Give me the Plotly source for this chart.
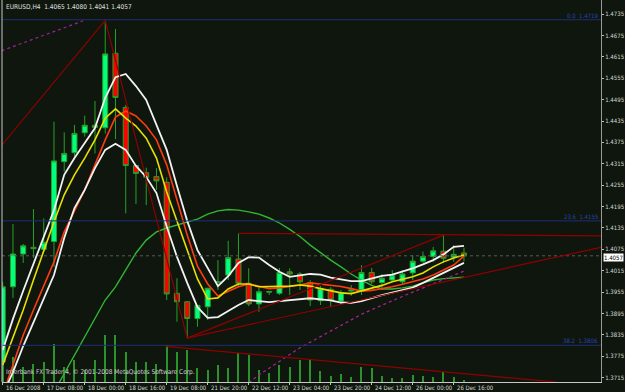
import plotly.graph_objects as go

# ---------------- data (EURUSD H4, 46 bars) ----------------
bars = list(range(46))
opens = [1.3759,1.3970,1.4062,1.4081,1.4075,1.4097,1.4321,1.4346,1.4402,1.4423,
         1.4416,1.4625,1.4473,1.4310,1.4290,1.4279,1.4263,1.3952,1.3928,1.3881,
         1.3914,1.3983,1.4003,1.4048,1.3980,1.3922,1.3955,1.3952,1.4012,1.4006,
         1.3982,1.3931,1.3963,1.3930,1.3958,1.3961,1.4010,1.3982,1.3989,1.3984,
         1.4009,1.4042,1.4055,1.4070,1.4053,1.4065]
highs = [1.3984,1.4146,1.4090,1.4188,1.4162,1.4433,1.4403,1.4424,1.4450,1.4491,
         1.4713,1.4693,1.4480,1.4312,1.4304,1.4303,1.4277,1.3994,1.3930,1.3919,
         1.3967,1.4045,1.4099,1.4120,1.4022,1.3967,1.3957,1.4023,1.4022,1.4011,
         1.3989,1.3972,1.3969,1.3961,1.3975,1.4031,1.4023,1.4006,1.4017,1.4017,
         1.4059,1.4069,1.4082,1.4115,1.4087,1.4080]
lows = [1.3756,1.3939,1.4037,1.4051,1.4069,1.4026,1.4293,1.4335,1.4391,1.4344,
        1.4400,1.4384,1.4176,1.4202,1.4199,1.4242,1.3933,1.3872,1.3826,1.3858,
        1.3877,1.3961,1.3989,1.3972,1.3916,1.3900,1.3947,1.3947,1.3947,1.3961,
        1.3916,1.3919,1.3913,1.3922,1.3945,1.3947,1.3978,1.3961,1.3984,1.3978,
        1.3989,1.4037,1.4040,1.4037,1.4040,1.4041]
closes = [1.3970,1.4062,1.4085,1.4077,1.4095,1.4323,1.4344,1.4400,1.4423,1.4417,
          1.4623,1.4501,1.4310,1.4288,1.4277,1.4267,1.3950,1.3928,1.3881,1.3918,
          1.3966,1.3984,1.4052,1.3980,1.3922,1.3956,1.3957,1.4010,1.4006,1.3984,
          1.3933,1.3966,1.3933,1.3954,1.3961,1.4010,1.3984,1.3994,1.4003,1.4006,
          1.4042,1.4055,1.4071,1.4050,1.4061,1.4057]
volumes = [2000,2500,1500,1800,2000,3800,1500,2200,1200,2200,
           4700,4700,3000,2000,2000,1800,3700,3000,3200,1400,
           1200,1700,1400,2900,2700,1200,900,1700,1500,2200,
           2200,1100,600,800,500,1500,1400,600,400,400,
           700,600,500,1000,500,200]

env_upper = [1.3793,1.3880,1.3959,1.4036,1.4111,1.4185,1.4284,1.4331,1.4373,1.4415,
             1.4500,1.4558,1.4567,1.4533,1.4494,1.4424,1.4354,1.4253,1.4155,1.4073,
             1.4023,1.3972,1.4000,1.4037,1.4053,1.4052,1.4031,1.4012,1.3998,1.4001,
             1.4006,1.4004,1.3996,1.3991,1.3986,1.3986,1.3994,1.4001,1.4004,1.4012,
             1.4022,1.4033,1.4045,1.4061,1.4082,1.4085]
env_lower = [1.3667,1.3731,1.3804,1.3871,1.3939,1.4003,1.4107,1.4191,1.4242,1.4303,
             1.4354,1.4371,1.4354,1.4309,1.4278,1.4233,1.4139,1.4054,1.3981,1.3913,
             1.3883,1.3885,1.3902,1.3919,1.3933,1.3930,1.3927,1.3930,1.3933,1.3936,
             1.3938,1.3935,1.3932,1.3926,1.3925,1.3930,1.3939,1.3947,1.3954,1.3960,
             1.3968,1.3981,1.3995,1.4009,1.4023,1.4037]
ma_yellow = [1.3751,1.3827,1.3905,1.3989,1.4073,1.4152,1.4228,1.4284,1.4331,1.4382,
             1.4443,1.4469,1.4443,1.4421,1.4387,1.4331,1.4236,1.4152,1.4073,1.3992,
             1.3936,1.3939,1.3964,1.3978,1.3978,1.3970,1.3970,1.3971,1.3972,1.3975,
             1.3972,1.3965,1.3958,1.3953,1.3951,1.3958,1.3967,1.3974,1.3984,1.3992,
             1.3998,1.4009,1.4026,1.4040,1.4051,1.4059]
ma_red = [1.3667,1.3751,1.3835,1.3905,1.3975,1.4040,1.4124,1.4185,1.4242,1.4312,
          1.4382,1.4446,1.4463,1.4449,1.4421,1.4382,1.4312,1.4214,1.4115,1.4028,
          1.3978,1.3944,1.3958,1.3970,1.3978,1.3972,1.3965,1.3967,1.3970,1.3975,
          1.3981,1.3978,1.3975,1.3971,1.3965,1.3958,1.3960,1.3964,1.3970,1.3977,
          1.3984,1.3992,1.4003,1.4016,1.4031,1.4056]
ma_green = [None,None,None,None,None,1.3675,1.3726,1.3779,1.3829,1.3883,
            1.3933,1.3970,1.4017,1.4065,1.4101,1.4124,1.4135,1.4143,1.4150,1.4160,
            1.4174,1.4183,1.4187,1.4185,1.4180,1.4174,1.4163,1.4149,1.4131,1.4111,
            1.4087,1.4065,1.4045,1.4026,1.4006,1.3989,1.3974,1.3964,1.3964,1.3967,
            1.3972,1.3981,1.3989,1.3993,1.3996,1.3997]
ma_magenta = [None]*24 + [1.3701,1.3723,1.3742,1.3762,1.3780,1.3799,1.3815,1.3831,
              1.3846,1.3862,1.3877,1.3893,1.3906,1.3919,1.3932,1.3943,1.3955,1.3967,
              1.3978,1.3991,1.4002,1.4014]

# trend lines: (bar, price) endpoints
trend_dark = [
    ([-1, 10], [1.4336, 1.4717]),
    ([10, 18], [1.4717, 1.3826]),
    ([18, 43], [1.3826, 1.4115]),
    ([18, 58.4], [1.3826, 1.4081]),
    ([23, 58.4], [1.4120, 1.4113]),
    ([15.9, 54], [1.3803, 1.3703]),
]
trend_magenta = ([-0.1, 7.86], [1.4632, 1.4716])

fib_levels = [1.4719, 1.4155, 1.3806]
fib_labels = ["0.0  1.4719", "23.6  1.4155", "38.2  1.3806"]
last_price = 1.4057

x_tick_bars = [0, 4, 8, 12, 16, 20, 24, 28, 32, 36, 40, 44]
x_tick_labels = ["16 Dec 2008", "17 Dec 08:00", "18 Dec 00:00", "18 Dec 16:00",
                 "19 Dec 08:00", "21 Dec 20:00", "22 Dec 12:00", "23 Dec 04:00",
                 "23 Dec 20:00", "24 Dec 12:00", "26 Dec 00:00", "26 Dec 16:00"]
y_ticks = [1.4735, 1.4675, 1.4615, 1.4555, 1.4495, 1.4435, 1.4375, 1.4315, 1.4255,
           1.4195, 1.4135, 1.4075, 1.4015, 1.3955, 1.3895, 1.3835, 1.3775, 1.3715]
header = "EURUSD,H4  1.4065 1.4080 1.4041 1.4057"
footer = "Interbank FX Trader 4, \u00a9 2001-2008 MetaQuotes Software Corp."

# ---------------- styling ----------------
BG = "#0e160e"
FONT = "Liberation Sans Narrow, DejaVu Sans Condensed, Liberation Sans, Arial"
FS = 6
WICK = "#27a127"
X_RANGE = [-0.07, 58.37]
Y_RANGE = [1.37031, 1.47743]

fig = go.Figure()

# volumes on primary (bottom layer)
fig.add_trace(go.Bar(x=bars, y=volumes, width=0.1, marker=dict(color="#2a942a", line=dict(width=0)),
                     yaxis="y", hoverinfo="skip"))

# candles
fig.add_trace(go.Candlestick(x=bars, open=opens, high=highs, low=lows, close=closes,
                             yaxis="y2",
                             increasing=dict(fillcolor="#00ff7f", line=dict(color=WICK, width=1)),
                             decreasing=dict(fillcolor="#ff0000", line=dict(color=WICK, width=1)),
                             whiskerwidth=0))

def line(xs, ys, color, width=1.6, dash="solid"):
    fig.add_trace(go.Scatter(x=xs, y=ys, mode="lines", yaxis="y2",
                             line=dict(color=color, width=width, dash=dash),
                             hoverinfo="skip", connectgaps=False))

line(bars, ma_green, "#33b533", 1.4)
line(bars, ma_magenta, "#b0209e", 1.2, "dot")
line(bars, ma_red, "#ff3c10", 1.6)
line(bars, ma_yellow, "#e8e000", 1.6)
line(bars, env_upper, "#f2f2f2", 1.8)
line(bars, env_lower, "#f2f2f2", 1.8)

for lv in fib_levels:
    line(X_RANGE, [lv, lv], "#1f2f78", 1)
line(X_RANGE, [last_price, last_price], "#5a5a5a", 1, "dot")
for xs, ys in trend_dark:
    line(xs, ys, "#8f0000", 1.2)
line(trend_magenta[0], trend_magenta[1], "#a0209a", 1.2, "dot")

annotations = []
for b, t in zip(x_tick_bars, x_tick_labels):
    annotations.append(dict(x=b, xref="x", y=0, yref="paper", yanchor="top", xanchor="left",
                            xshift=1, yshift=0, text=t, showarrow=False,
                            font=dict(family=FONT, size=FS, color="#d8d8d8")))
for lv, t in zip(fib_levels, fib_labels):
    annotations.append(dict(x=1, xref="paper", y=lv, yref="y2", xanchor="right", yanchor="bottom",
                            xshift=-1, yshift=-1, text=t, showarrow=False,
                            font=dict(family=FONT, size=FS, color="#2a44b0")))
annotations.append(dict(x=0, xref="paper", y=1, yref="paper", xanchor="left", yanchor="top",
                        xshift=2, yshift=-1, text=header, showarrow=False,
                        font=dict(family=FONT, size=6.5, color="#e0e0e0")))
annotations.append(dict(x=0, xref="paper", y=0, yref="paper", xanchor="left", yanchor="bottom",
                        xshift=2, yshift=4, text=footer, showarrow=False,
                        font=dict(family=FONT, size=6.5, color="#d0d0d0")))
annotations.append(dict(x=1, xref="paper", y=last_price, yref="y2", xanchor="left", yanchor="top",
                        xshift=2, yshift=3, text=f"{last_price:.4f}", showarrow=False, bgcolor="#ffffff",
                        borderpad=0, font=dict(family=FONT, size=FS, color="#000000")))

fig.update_layout(
    width=625, height=392,
    margin=dict(l=2, r=24, t=0, b=10, pad=0),
    paper_bgcolor=BG, plot_bgcolor=BG,
    showlegend=False, bargap=0,
    xaxis=dict(range=X_RANGE, showgrid=False, zeroline=False, rangeslider=dict(visible=False),
               tickvals=x_tick_bars, ticktext=[""] * len(x_tick_bars), ticks="outside", ticklen=2,
               tickcolor="#c0c0c0", showline=True, linecolor="#c8c8c8", linewidth=1),
    yaxis=dict(range=[0, 38200], visible=False, fixedrange=True),
    yaxis2=dict(range=Y_RANGE, overlaying="y", side="right", showgrid=False, zeroline=False,
                tickvals=y_ticks, ticktext=[f"{v:.4f}" for v in y_ticks], ticks="outside",
                ticklen=2, tickcolor="#c0c0c0", showline=True, linecolor="#9a9a9a", linewidth=1,
                tickfont=dict(family=FONT, size=FS, color="#d8d8d8")),
    shapes=[dict(type="line", xref="paper", yref="paper", x0=0, x1=0, y0=0, y1=1,
                 line=dict(color="#c8c8c8", width=1))],
    annotations=annotations,
)

fig.write_html("out.html")
